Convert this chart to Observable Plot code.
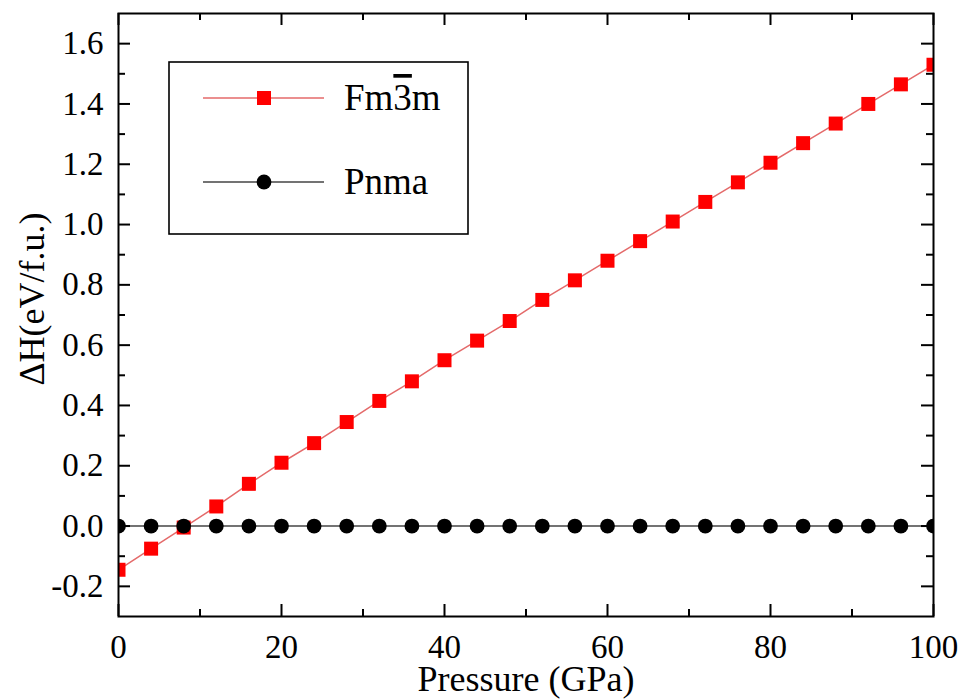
<!DOCTYPE html>
<html>
<head>
<meta charset="utf-8">
<script src="https://cdn.jsdelivr.net/npm/d3@7"></script>
<script src="https://cdn.jsdelivr.net/npm/@observablehq/plot@0.6"></script>
<style>
  html, body { margin: 0; padding: 0; background: #fff; }
  #chart svg { display: block; }
</style>
</head>
<body>
<div id="chart"></div>
<script>
// ---- data ----
const pressure = [0, 4, 8, 12, 16, 20, 24, 28, 32, 36, 40, 44, 48, 52, 56, 60, 64, 68, 72, 76, 80, 84, 88, 92, 96, 100];
const fm3m = [-0.145, -0.075, -0.005, 0.065, 0.140, 0.210, 0.275, 0.345, 0.415, 0.480, 0.550, 0.615, 0.680, 0.750, 0.815, 0.880, 0.945, 1.010, 1.075, 1.140, 1.205, 1.270, 1.335, 1.400, 1.465, 1.530];
const pnma = [0, 0, 0, 0, 0, 0, 0, 0, 0, 0, 0, 0, 0, 0, 0, 0, 0, 0, 0, 0, 0, 0, 0, 0, 0, 0];
const seriesNames = ["Fm3m", "Pnma"];
const xMajor = [0, 20, 40, 60, 80, 100];
const xMinor = [10, 30, 50, 70, 90];
const yMajor = [-0.2, 0.0, 0.2, 0.4, 0.6, 0.8, 1.0, 1.2, 1.4, 1.6];
const yMinor = [-0.1, 0.1, 0.3, 0.5, 0.7, 0.9, 1.1, 1.3, 1.5];
const xLabel = "Pressure (GPa)";
const yLabel = "ΔH(eV/f.u.)";

const fmData = pressure.map((p, i) => ({p, v: fm3m[i]}));
const pnData = pressure.map((p, i) => ({p, v: pnma[i]}));

// ---- layout ----
const W = 963, H = 700;
const mL = 118, mR = 30, mT = 13, mB = 84;
const innerH = H - mT - mB;
const innerW = W - mL - mR;
const major = 12, minor = 7;
const font = "'Liberation Serif', 'Times New Roman', serif";
const redLine = "#e46a6a", redFill = "#ff0000", blackLine = "#444";

const svg = Plot.plot({
  width: W, height: H,
  marginLeft: mL, marginRight: mR, marginTop: mT, marginBottom: mB,
  style: {fontFamily: font, fontSize: "33px", color: "#000", background: "#fff"},
  x: {domain: [0, 100]},
  y: {domain: [-0.3, 1.7]},
  marks: [
    Plot.line(fmData, {x: "p", y: "v", stroke: redLine, strokeWidth: 1.5, clip: true}),
    Plot.line(pnData, {x: "p", y: "v", stroke: blackLine, strokeWidth: 1.5, clip: true}),
    Plot.dot(fmData, {x: "p", y: "v", symbol: "square", r: 7.9, fill: redFill, stroke: "none", clip: true}),
    Plot.dot(pnData, {x: "p", y: "v", symbol: "circle", r: 7.4, fill: "#000", stroke: "none", clip: true}),
    // inward ticks: bottom, top, left, right
    Plot.tickX(xMajor, {x: d => d, insetTop: innerH - major, strokeWidth: 2}),
    Plot.tickX(xMinor, {x: d => d, insetTop: innerH - minor, strokeWidth: 2}),
    Plot.tickX(xMajor, {x: d => d, insetBottom: innerH - major, strokeWidth: 2}),
    Plot.tickX(xMinor, {x: d => d, insetBottom: innerH - minor, strokeWidth: 2}),
    Plot.tickY(yMajor, {y: d => d, insetRight: innerW - major, strokeWidth: 2}),
    Plot.tickY(yMinor, {y: d => d, insetRight: innerW - minor, strokeWidth: 2}),
    Plot.tickY(yMajor, {y: d => d, insetLeft: innerW - major, strokeWidth: 2}),
    Plot.tickY(yMinor, {y: d => d, insetLeft: innerW - minor, strokeWidth: 2}),
    Plot.frame({stroke: "#000", strokeWidth: 2}),
    Plot.axisX(xMajor, {tickSize: 0, tickPadding: 18, label: null, fontSize: 33, tickFormat: d => String(d)}),
    Plot.axisY(yMajor, {tickSize: 0, tickPadding: 15, label: null, fontSize: 33, tickFormat: d => d.toFixed(1)}),
    Plot.text([xLabel], {text: d => d, frameAnchor: "bottom", lineAnchor: "middle", textAnchor: "middle", dy: 63, fontSize: 36}),
    Plot.text([yLabel], {text: d => d, frameAnchor: "left", lineAnchor: "middle", textAnchor: "middle", rotate: -90, dx: -86, dy: -16, fontSize: 36})
  ]
});

// ---- legend (inside plot area) ----
const g = d3.select(svg).append("g").attr("font-family", font).attr("text-anchor", "start");
g.append("rect").attr("x", 169).attr("y", 62).attr("width", 299).attr("height", 172)
  .attr("fill", "#fff").attr("stroke", "#000").attr("stroke-width", 1.6);
const rows = [
  {name: seriesNames[0], y: 98, line: redLine, fill: redFill, sym: "square"},
  {name: seriesNames[1], y: 182, line: blackLine, fill: "#000", sym: "circle"}
];
rows.forEach(r => {
  g.append("line").attr("x1", 203).attr("x2", 324).attr("y1", r.y).attr("y2", r.y)
    .attr("stroke", r.line).attr("stroke-width", 1.5);
  if (r.sym === "square") {
    g.append("rect").attr("x", 264 - 7).attr("y", r.y - 7).attr("width", 14).attr("height", 14).attr("fill", r.fill);
  } else {
    g.append("circle").attr("cx", 264).attr("cy", r.y).attr("r", 7.4).attr("fill", r.fill);
  }
  const t = g.append("text").attr("x", 344).attr("y", r.y + 12).attr("font-size", 37).attr("fill", "#000");
  if (r.name === "Fm3m") {
    t.append("tspan").text("Fm");
    t.append("tspan").text("3").style("text-decoration", "overline");
    t.append("tspan").text("m");
  } else {
    t.text(r.name);
  }
});

document.getElementById("chart").appendChild(svg);
</script>
</body>
</html>
